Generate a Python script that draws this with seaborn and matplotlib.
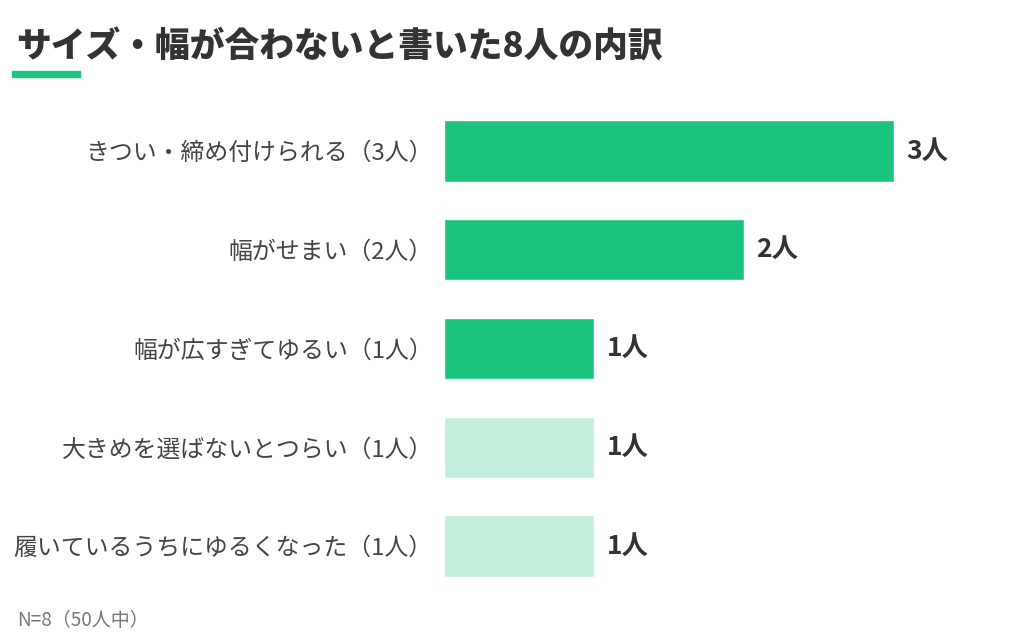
import matplotlib
matplotlib.use("Agg")
import matplotlib.pyplot as plt
import seaborn as sns
import pandas as pd

sns.set_style("white")
plt.rcParams['font.family'] = ['Noto Sans CJK JP', 'DejaVu Sans']

# data
categories = [
    "きつい・締め付けられる（3人）",
    "幅がせまい（2人）",
    "幅が広すぎてゆるい（1人）",
    "大きめを選ばないとつらい（1人）",
    "履いているうちにゆるくなった（1人）",
]
counts = [3, 2, 1, 1, 1]
value_labels = ["3人", "2人", "1人", "1人", "1人"]
title = "サイズ・幅が合わないと書いた8人の内訳"
note = "N=8（50人中）"

dark = "#1bc47d"
light = "#c2eedc"
colors = [dark, dark, dark, light, light]

df = pd.DataFrame({"category": categories, "count": counts})

fig = plt.figure(figsize=(10.24, 6.4), dpi=100)
ax = fig.add_axes([444 / 1024, 1 - 595.4 / 640, 560 / 1024, 493.75 / 640])

sns.barplot(data=df, x="count", y="category", hue="category", palette=colors,
            legend=False, width=0.62, saturation=1, ax=ax)

ax.set_xlim(0, 560 / 150)
ax.set_ylim(4.5, -0.5)
ax.set_xlabel("")
ax.set_ylabel("")
ax.set_xticks([])
ax.tick_params(axis="y", length=0, pad=8, labelsize=17.2, labelcolor="#444444")
for s in ax.spines.values():
    s.set_visible(False)

# value labels
for i, (v, lab) in enumerate(zip(counts, value_labels)):
    ax.annotate(lab, (v, i), xytext=(9, 0), textcoords="offset points",
                ha="left", va="center", fontsize=19, fontweight="bold",
                color="#333333")

# title + underline
fig.text(16 / 1024, 1 - 47 / 640, title, fontsize=25, fontweight="heavy",
         color="#333333", ha="left", va="center")
fig.add_artist(plt.Rectangle((12 / 1024, 1 - 77 / 640), 68 / 1024, 6 / 640,
                             color=dark, transform=fig.transFigure))

fig.text(17 / 1024, 1 - 620 / 640, note, fontsize=13.7, color="#777777",
         ha="left", va="center")

plt.savefig("out.png", dpi=100)
